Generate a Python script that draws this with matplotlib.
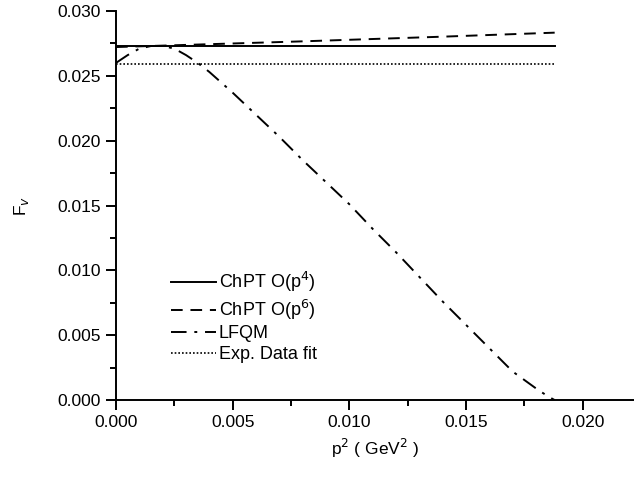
import numpy as np
import matplotlib
matplotlib.use("Agg")
import matplotlib.pyplot as plt
from matplotlib.ticker import MultipleLocator, FormatStrFormatter

plt.rcParams['font.family'] = ['Liberation Sans', 'DejaVu Sans']

# ChPT O(p^4): constant
x_p4 = [0.0, 0.0188]
y_p4 = [0.0273, 0.0273]

# ChPT O(p^6)
x_p6 = [0.0, 0.002, 0.004, 0.006, 0.008, 0.010, 0.012, 0.014, 0.016, 0.0188]
y_p6 = [0.02722, 0.02733, 0.02744, 0.02755, 0.02766, 0.02778, 0.02790, 0.02802, 0.02815, 0.02833]

# LFQM
x_lf = [0.0, 0.0005, 0.001, 0.0015, 0.002, 0.0025, 0.003, 0.0035, 0.004,
        0.005, 0.006, 0.007, 0.008, 0.009, 0.010, 0.011, 0.012, 0.013,
        0.014, 0.015, 0.016, 0.017, 0.018, 0.0185, 0.0188]
y_lf = [0.0260, 0.0266, 0.0271, 0.0273, 0.0273, 0.0271, 0.0266, 0.0260, 0.0253,
        0.0237, 0.0220, 0.0203, 0.0185, 0.0168, 0.0151, 0.0132, 0.0114, 0.0095,
        0.0076, 0.0058, 0.0040, 0.0022, 0.0009, 0.0003, 0.0]

# Exp. data fit
x_exp = [0.0, 0.0188]
y_exp = [0.0259, 0.0259]

fig = plt.figure(figsize=(6.34, 4.78), dpi=100)
ax = fig.add_axes([0.183, 0.163, 0.817, 0.814])

ax.plot(x_p4, y_p4, color='black', lw=1.4, label='ChPT O(p$^4$)')
ax.plot(x_p6, y_p6, color='black', lw=1.4, ls=(0, (6, 4)), label='ChPT O(p$^6$)')
ax.plot(x_lf, y_lf, color='black', lw=1.4, ls=(0, (8, 4, 1.5, 4)), label='LFQM')
ax.plot(x_exp, y_exp, color='black', lw=1.2, ls=(0, (1, 1.2)), label='Exp. Data fit')

ax.set_xlim(0, 0.0222)
ax.set_ylim(0, 0.030)
ax.xaxis.set_major_locator(MultipleLocator(0.005))
ax.xaxis.set_minor_locator(MultipleLocator(0.0025))
ax.yaxis.set_major_locator(MultipleLocator(0.005))
ax.yaxis.set_minor_locator(MultipleLocator(0.0025))
ax.xaxis.set_major_formatter(FormatStrFormatter('%.3f'))
ax.yaxis.set_major_formatter(FormatStrFormatter('%.3f'))

for s in ['top', 'right']:
    ax.spines[s].set_visible(False)
for s in ['left', 'bottom']:
    ax.spines[s].set_linewidth(1.4)
ax.tick_params(which='major', direction='out', length=7, width=1.4, labelsize=12.5, pad=4)
ax.tick_params(which='minor', direction='out', length=4.5, width=1.4)

ax.set_xlabel('p$^2$ ( GeV$^2$ )', fontsize=12.5, labelpad=5)
ax.set_ylabel('F$_v$', fontsize=12.5, labelpad=19)

ax.legend(loc='upper left', bbox_to_anchor=(0.075, 0.376), frameon=False,
          fontsize=13, handlelength=2.5, handletextpad=0.15, labelspacing=0.2)

fig.savefig('out.png', dpi=100)
